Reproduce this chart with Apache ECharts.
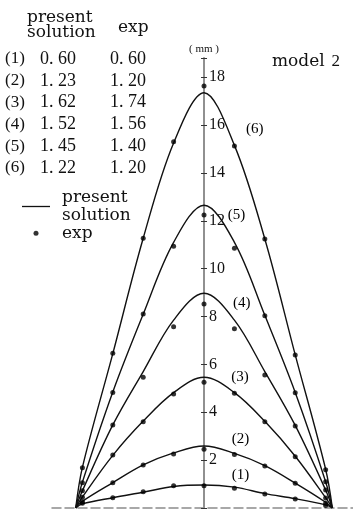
<!DOCTYPE html>
<html>
<head>
<meta charset="utf-8">
<script src="https://cdn.jsdelivr.net/npm/echarts@6/dist/echarts.min.js"></script>
<style>
  html, body { margin: 0; padding: 0; background: #fff; }
  #chart { width: 353px; height: 510px; }
</style>
</head>
<body>
<div id="chart"></div>
<script>
// Stations across the trough (units from the centreline)
const curveX = [-4.22, -4, -3, -2, -1, 0, 1, 2, 3, 4, 4.22];
const expX = [-4, -3, -2, -1, 0, 1, 2, 3, 4];

// Computed settlement profiles, cases (1)..(6), in mm
const solution1 = [0, 0.17, 0.43, 0.66, 0.90, 0.96, 0.87, 0.60, 0.39, 0.13, 0];
const solution2 = [0, 0.28, 1.06, 1.80, 2.30, 2.59, 2.28, 1.77, 1.04, 0.24, 0];
const solution3 = [0, 0.46, 2.20, 3.63, 4.82, 5.46, 4.82, 3.62, 2.16, 0.43, 0];
const solution4 = [0, 0.72, 3.47, 5.70, 7.85, 8.97, 7.85, 5.70, 3.45, 0.75, 0];
const solution5 = [0, 1.08, 4.85, 8.10, 11.10, 12.65, 11.10, 8.05, 4.83, 1.10, 0];
const solution6 = [0, 1.70, 6.45, 11.27, 15.25, 17.35, 15.15, 11.24, 6.40, 1.62, 0];

// Measured settlements, cases (1)..(6), in mm
const measured1 = [0.20, 0.43, 0.68, 0.93, 0.93, 0.82, 0.58, 0.38, 0.10];
const measured2 = [0.26, 1.06, 1.80, 2.26, 2.45, 2.24, 1.75, 1.03, 0.20];
const measured3 = [0.45, 2.21, 3.60, 4.76, 5.25, 4.79, 3.60, 2.14, 0.42];
const measured4 = [0.72, 3.47, 5.46, 7.57, 8.52, 7.49, 5.56, 3.43, 0.75];
const measured5 = [1.05, 4.83, 8.10, 10.94, 12.24, 10.85, 8.03, 4.82, 1.10];
const measured6 = [1.68, 6.46, 11.27, 15.30, 17.63, 15.12, 11.24, 6.39, 1.60];

// Case tags and the tabulated values beside them
const caseTags = ['(1)', '(2)', '(3)', '(4)', '(5)', '(6)'];
const presentVals = [0.60, 1.23, 1.62, 1.52, 1.45, 1.22];
const expVals = [0.60, 1.20, 1.74, 1.56, 1.40, 1.20];

// Where each case tag sits, in data units [x, mm]
const tagAnchors = [[1.2, 1.38], [1.2, 2.9], [1.18, 5.48], [1.24, 8.58], [1.07, 12.24], [1.67, 15.83]];

const solutions = [solution1, solution2, solution3, solution4, solution5, solution6];
const measured = [measured1, measured2, measured3, measured4, measured5, measured6];

const SERIF = "'Liberation Serif', 'DejaVu Serif', serif";
const WORD = "'DejaVu Serif', 'Liberation Serif', serif";
const INK = '#111';

// Plot frame
const X_MIN = -5, X_MAX = 4.9, Y_MIN = 0, Y_MAX = 18.8;
const FRAME = { left: 52, right: 0, top: 58, bottom: 2 };
const W = 353;
// the settlement scale is drawn on the centreline (x = 0)
const axisLeft = FRAME.left + (0 - X_MIN) / (X_MAX - X_MIN) * (W - FRAME.left - FRAME.right);

const fmt = v => v.toFixed(2).replace('.', '. ');

const series = [];
solutions.forEach(vals => {
  series.push({
    type: 'line',
    name: 'present\nsolution',
    data: curveX.map((x, j) => [x, vals[j]]),
    smooth: 0.35,
    symbol: 'none',
    itemStyle: { color: INK },
    lineStyle: { color: INK, width: 1.4 },
    z: 3,
    silent: true
  });
});
measured.forEach(vals => {
  series.push({
    type: 'scatter',
    name: 'exp',
    data: expX.map((x, j) => [x, vals[j]]),
    symbol: 'circle',
    symbolSize: 5,
    itemStyle: { color: '#000' },
    z: 4,
    silent: true
  });
});
series.push({
  type: 'scatter',
  name: 'tags',
  data: tagAnchors.map((p, i) => ({ value: p, label: { formatter: caseTags[i] } })),
  symbolSize: 1,
  itemStyle: { color: 'rgba(0,0,0,0)' },
  label: {
    show: true,
    position: 'inside',
    fontFamily: SERIF,
    fontSize: 15,
    color: '#000',
    textBorderWidth: 0,
    opacity: 1
  },
  z: 5,
  silent: true
});

// Table in the upper-left corner
const graphics = [];
graphics.push({ type: 'text', left: 27, top: 9, style: { text: 'present', font: `17px ${WORD}`, fill: INK } });
graphics.push({ type: 'text', left: 27, top: 24, style: { text: 'solution', font: `17px ${WORD}`, fill: INK } });
graphics.push({ type: 'text', left: 118, top: 19, style: { text: 'exp', font: `17px ${WORD}`, fill: INK } });
caseTags.forEach((t, i) => {
  const yc = 59 + i * 21.8;
  graphics.push({ type: 'text', x: 5, y: yc, style: { text: t, font: `17px ${SERIF}`, fill: INK, verticalAlign: 'middle' } });
  graphics.push({ type: 'text', x: 40, y: yc, style: { text: fmt(presentVals[i]), font: `18px ${SERIF}`, fill: INK, verticalAlign: 'middle' } });
  graphics.push({ type: 'text', x: 110, y: yc, style: { text: fmt(expVals[i]), font: `18px ${SERIF}`, fill: INK, verticalAlign: 'middle' } });
});
graphics.push({
  type: 'text', x: 272, y: 62,
  style: {
    text: '{w|model}  {d|2}',
    verticalAlign: 'middle',
    rich: {
      w: { fontFamily: WORD, fontSize: 17, fill: INK, color: INK },
      d: { fontFamily: SERIF, fontSize: 17, fill: INK, color: INK }
    }
  }
});

const hidden = { show: false };
const option = {
  animation: false,
  backgroundColor: '#fff',
  grid: [
    Object.assign({ outerBoundsMode: 'none', containLabel: false }, FRAME),
    { left: axisLeft, right: 0, top: FRAME.top, bottom: FRAME.bottom, outerBoundsMode: 'none', containLabel: false }
  ],
  legend: {
    data: [
      { name: 'present\nsolution', icon: 'path://M0,0 L28,0 L28,1.3 L0,1.3 Z' },
      { name: 'exp' }
    ],
    orient: 'vertical',
    left: 22,
    top: 188,
    padding: 0,
    itemWidth: 28,
    itemHeight: 5,
    itemGap: -1,
    selectedMode: false,
    textStyle: {
      fontFamily: WORD,
      fontSize: 17,
      lineHeight: 18.5,
      color: INK,
      padding: [0, 0, 0, 7]
    }
  },
  xAxis: [
    {
      gridIndex: 0,
      type: 'value',
      min: X_MIN,
      max: X_MAX,
      axisLine: { show: true, onZero: false, lineStyle: { color: '#8c8c8c', width: 1.5, type: [9, 4] } },
      axisTick: hidden,
      axisLabel: hidden,
      splitLine: hidden
    },
    { gridIndex: 1, type: 'value', min: 0, max: 1, show: false }
  ],
  yAxis: [
    { gridIndex: 0, type: 'value', min: Y_MIN, max: Y_MAX, show: false },
    {
      gridIndex: 1,
      type: 'value',
      min: Y_MIN,
      max: Y_MAX,
      interval: 2,
      position: 'left',
      name: '( mm )',
      nameLocation: 'end',
      nameGap: 3,
      nameTextStyle: { fontFamily: SERIF, fontSize: 11, color: INK },
      axisLine: { show: true, onZero: false, lineStyle: { color: '#909090', width: 2 } },
      axisTick: { show: true, length: 3, lineStyle: { color: '#333', width: 1 } },
      axisLabel: {
        inside: true,
        formatter: v => (v > 0 && v % 2 === 0) ? String(v) : '',
        margin: 5,
        fontFamily: SERIF,
        fontSize: 16,
        color: INK
      },
      splitLine: hidden
    },
    {
      gridIndex: 1,
      type: 'value',
      min: Y_MIN,
      max: Y_MAX,
      interval: 2,
      position: 'left',
      axisLine: { show: false, onZero: false },
      axisTick: { show: true, inside: true, length: 3, lineStyle: { color: '#333', width: 1 } },
      axisLabel: hidden,
      splitLine: hidden
    }
  ],
  graphic: graphics,
  series: series
};

const chart = echarts.init(document.getElementById('chart'));
chart.setOption(option);
</script>
</body>
</html>
